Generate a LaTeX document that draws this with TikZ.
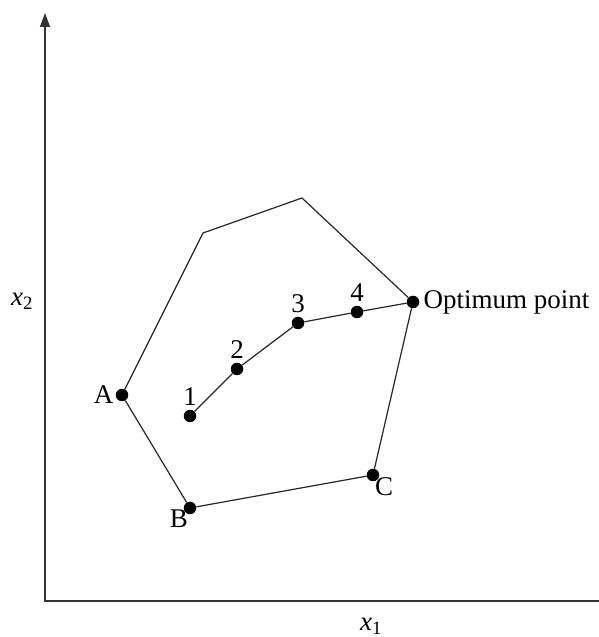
\documentclass[tikz,border=0pt]{standalone}
\usepackage{fontspec}
\setmainfont{Liberation Serif}
\usepackage{tikz}
\usetikzlibrary{arrows.meta,positioning}
\tikzset{
  dot/.style={circle,fill=black,inner sep=0pt,minimum size=12.5pt},
  edge/.style={line width=1.2pt,draw=black!85},
  axis/.style={line width=1.5pt,draw=black!80},
  every label/.style={font=\fontsize{27}{31}\selectfont,inner sep=1pt}
}

\begin{document}
\begin{tikzpicture}[x=1pt,y=1pt,font=\fontsize{27}{31}\selectfont]
\useasboundingbox (0,0) rectangle (599,637);

% axes
\coordinate (origin) at (45,36);
\coordinate (ytop) at (45,624);
\coordinate (xend) at (599,36);
\draw[axis,{Triangle[length=14pt,width=10pt]}-] (ytop) -- (origin) -- (xend);
\node (xlab) at (371,11) {\textit{x}\textsubscript{1}};
\node (ylab) at (22,336) {\textit{x}\textsubscript{2}};

% feasible region
\coordinate (tl) at (203,404);
\coordinate (tr) at (302,439);
\node[dot,label={[label distance=1pt]left:A}] (A) at (122,242) {};
\node[dot,label={[label distance=-5pt]below left:B}] (B) at (190,129) {};
\node[dot,label={[label distance=-5pt]below right:C}] (C) at (373,162) {};
\node[dot,label={[label distance=3pt]right:Optimum point}] (opt) at (413,335) {};

% search path
\node[dot,label={[label distance=3pt]above:1}] (p1) at (190,221) {};
\node[dot,label={[label distance=3pt]above:2}] (p2) at (237,268) {};
\node[dot,label={[label distance=3pt]above:3}] (p3) at (298,314) {};
\node[dot,label={[label distance=3pt]above:4}] (p4) at (357,325) {};

\draw[edge] (A) -- (tl) -- (tr) -- (opt);
\draw[edge] (opt) -- (C);
\draw[edge] (C) -- (B);
\draw[edge] (B) -- (A);
\draw[edge] (p1) -- (p2);
\draw[edge] (p2) -- (p3);
\draw[edge] (p3) -- (p4);
\draw[edge] (p4) -- (opt);
\end{tikzpicture}
\end{document}
